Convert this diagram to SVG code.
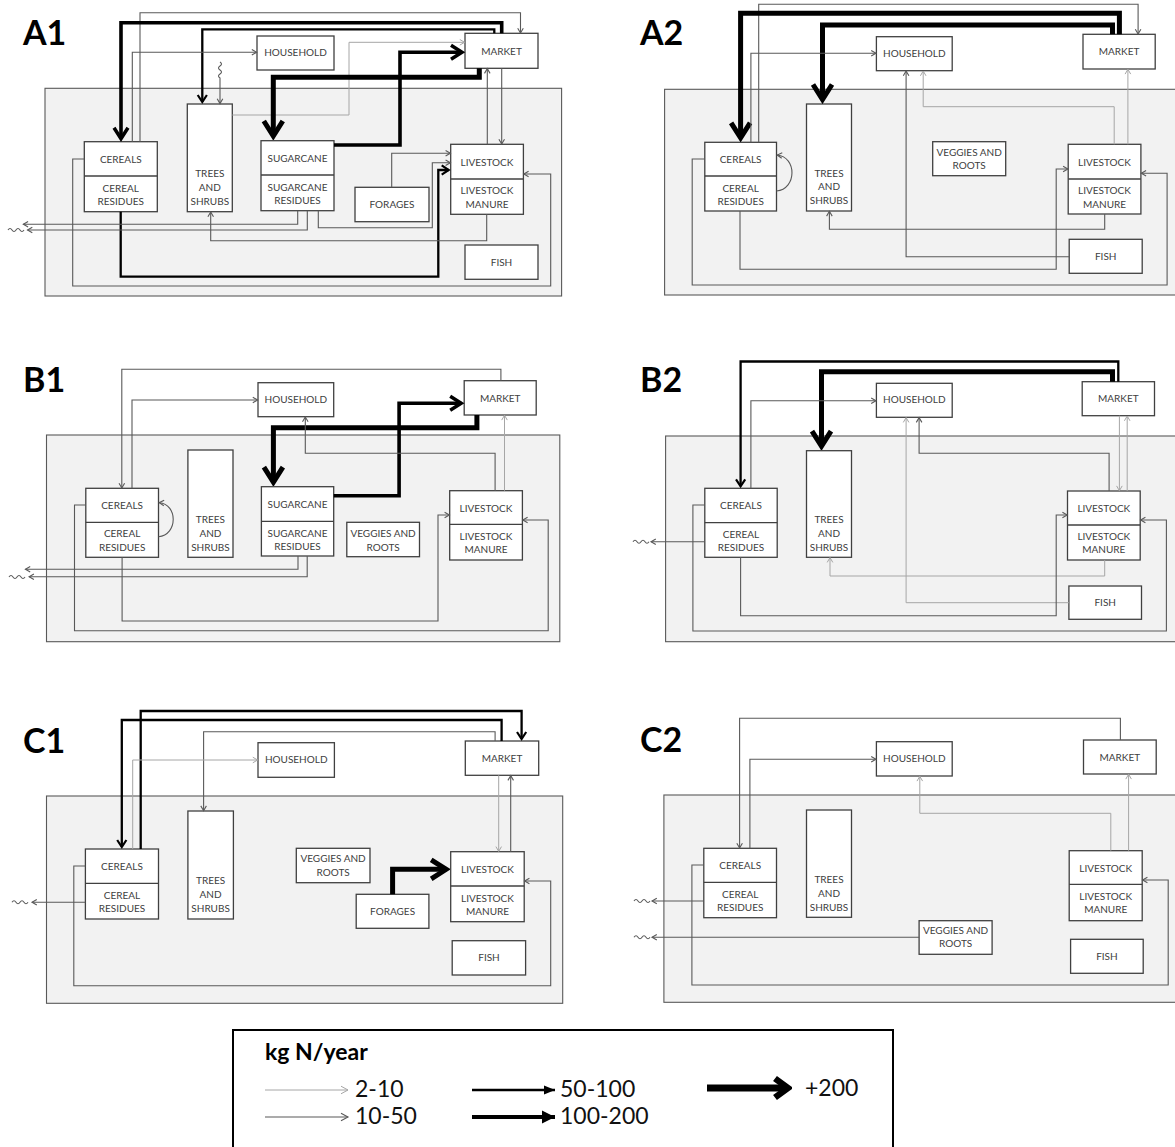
<svg xmlns="http://www.w3.org/2000/svg" width="1175" height="1147" viewBox="0 0 1175 1147">
<defs>
<style>
.bg{fill:#ffffff}
.farm{fill:#f2f2f2;stroke:#595959;stroke-width:1.1}
.box{fill:#ffffff;stroke:#404040;stroke-width:1.3}
.sep{stroke:#404040;stroke-width:1.3}
.lbl{font-family:Lato,"Liberation Sans",Arial,sans-serif;font-size:10px;fill:#404040;text-anchor:middle}
.pl{font-family:Lato,"Liberation Sans",Arial,sans-serif;font-size:34px;font-weight:bold;fill:#000}
.lg{font-family:Lato,"Liberation Sans",Arial,sans-serif;font-size:23px;fill:#111}
.lgt{font-family:Lato,"Liberation Sans",Arial,sans-serif;font-size:23px;font-weight:bold;fill:#000}
.f2{fill:none;stroke:#a6a6a6;stroke-width:1;marker-end:url(#m2)}
.f10{fill:none;stroke:#595959;stroke-width:1.1;marker-end:url(#m10)}
.f50{fill:none;stroke:#000;stroke-width:2.3;marker-end:url(#m50)}
.f100{fill:none;stroke:#000;stroke-width:3.6;marker-end:url(#m100)}
.f200{fill:none;stroke:#000;stroke-width:5;marker-end:url(#m200)}
.sq{fill:none;stroke:#595959;stroke-width:1.1}
</style>
<marker id="m2" markerUnits="userSpaceOnUse" orient="auto" viewBox="-24 -14 28 28" markerWidth="28" markerHeight="28" refX="0" refY="0"><path d="M-4.8,-2.8 L0,0 L-4.8,2.8" fill="none" stroke="#a6a6a6" stroke-width="1"/></marker>
<marker id="m10" markerUnits="userSpaceOnUse" orient="auto" viewBox="-24 -14 28 28" markerWidth="28" markerHeight="28" refX="0" refY="0"><path d="M-4.8,-2.8 L0,0 L-4.8,2.8" fill="none" stroke="#595959" stroke-width="1.1"/></marker>
<marker id="m50" markerUnits="userSpaceOnUse" orient="auto" viewBox="-24 -14 28 28" markerWidth="28" markerHeight="28" refX="0" refY="0"><path d="M-7,-4.6 L0,0 L-7,4.6" fill="none" stroke="#000" stroke-width="2.2"/></marker>
<marker id="m100" markerUnits="userSpaceOnUse" orient="auto" viewBox="-24 -14 28 28" markerWidth="28" markerHeight="28" refX="0" refY="0"><path d="M-11,-7 L0,0 L-11,7" fill="none" stroke="#000" stroke-width="3.5"/></marker>
<marker id="m200" markerUnits="userSpaceOnUse" orient="auto" viewBox="-24 -14 28 28" markerWidth="28" markerHeight="28" refX="0" refY="0"><path d="M-15,-9.5 L0,0 L-15,9.5" fill="none" stroke="#000" stroke-width="5"/></marker>
<marker id="lm2" markerUnits="userSpaceOnUse" orient="auto" viewBox="-24 -14 28 28" markerWidth="28" markerHeight="28" refX="0" refY="0"><path d="M-7,-3.8 L0,0 L-7,3.8" fill="none" stroke="#a6a6a6" stroke-width="1"/></marker>
<marker id="lm10" markerUnits="userSpaceOnUse" orient="auto" viewBox="-24 -14 28 28" markerWidth="28" markerHeight="28" refX="0" refY="0"><path d="M-7,-3.8 L0,0 L-7,3.8" fill="none" stroke="#595959" stroke-width="1.1"/></marker>
<marker id="lm50" markerUnits="userSpaceOnUse" orient="auto" viewBox="-24 -14 28 28" markerWidth="28" markerHeight="28" refX="0" refY="0"><path d="M-11,-4.5 L0,0 L-11,4.5 Z" fill="#000"/></marker>
<marker id="lm100" markerUnits="userSpaceOnUse" orient="auto" viewBox="-24 -14 28 28" markerWidth="28" markerHeight="28" refX="0" refY="0"><path d="M-13,-6.5 L0,0 L-13,6.5 Z" fill="#000"/></marker>
<marker id="lm200" markerUnits="userSpaceOnUse" orient="auto" viewBox="-24 -16 28 32" markerWidth="28" markerHeight="32" refX="0" refY="0"><path d="M-13,-9.5 L0,0 L-13,9.5" fill="none" stroke="#000" stroke-width="6.5"/></marker>
</defs>
<rect class="bg" x="0" y="0" width="1175" height="1147"/>

<!-- ================= A1 ================= -->
<g id="A1">
<rect id="A1-farm" class="farm" x="45" y="88.3" width="516.6" height="207.7"/>
<text class="pl" x="23" y="45">A1</text>
<g id="A1-household"><rect class="box" x="257" y="36" width="77" height="34"/><text class="lbl" x="295.5" y="56.3">HOUSEHOLD</text></g>
<g id="A1-market"><rect class="box" x="465" y="33.3" width="73" height="35"/><text class="lbl" x="501.5" y="54.5">MARKET</text></g>
<g id="A1-cereals"><rect class="box" x="84.3" y="141.7" width="73" height="70"/><line class="sep" x1="84.3" y1="176" x2="157.3" y2="176"/><text class="lbl" x="120.8" y="163">CEREALS</text><text class="lbl" x="120.8" y="191.5">CEREAL</text><text class="lbl" x="120.8" y="205">RESIDUES</text></g>
<g id="A1-trees"><rect class="box" x="187.3" y="104" width="45" height="107.7"/><text class="lbl" x="209.8" y="177.3">TREES</text><text class="lbl" x="209.8" y="191">AND</text><text class="lbl" x="209.8" y="204.6">SHRUBS</text></g>
<g id="A1-sugarcane"><rect class="box" x="261" y="140.7" width="73" height="70"/><line class="sep" x1="261" y1="175" x2="334" y2="175"/><text class="lbl" x="297.5" y="162">SUGARCANE</text><text class="lbl" x="297.5" y="190.5">SUGARCANE</text><text class="lbl" x="297.5" y="204">RESIDUES</text></g>
<g id="A1-forages"><rect class="box" x="355" y="187.3" width="74" height="34.4"/><text class="lbl" x="392" y="207.8">FORAGES</text></g>
<g id="A1-livestock"><rect class="box" x="450.7" y="144.3" width="72.7" height="70"/><line class="sep" x1="450.7" y1="179" x2="523.4" y2="179"/><text class="lbl" x="487" y="165.5">LIVESTOCK</text><text class="lbl" x="487" y="194.2">LIVESTOCK</text><text class="lbl" x="487" y="207.6">MANURE</text></g>
<g id="A1-fish"><rect class="box" x="465" y="245" width="73" height="34.3"/><text class="lbl" x="501.5" y="265.5">FISH</text></g>
<g id="A1-connectors">
<path class="f10" d="M140,141.7 V12.7 H520.5 V33"/>
<path class="f100" d="M501.7,33.3 V22.7 H121 V138.7"/>
<path class="f50" d="M494.3,33.3 V29.3 H202.3 V102"/>
<path class="f10" d="M132.3,141.7 V52.3 H256.6"/>
<path class="f10" d="M220,62 q3,2 0,4 t0,4 t0,4 t0,4 V103.6"/>
<path class="f2" d="M232.3,115 H349 V42.3 H464.6"/>
<path class="f100" d="M334,145 H400 V52.3 H462"/>
<path class="f200" d="M479.3,68.3 V77.3 H273.3 V136"/>
<path class="f10" d="M501.7,68.3 V144"/>
<path class="f10" d="M487.3,144.3 V68.6"/>
<path class="f10" d="M391.7,187.3 V153.3 H450.4"/>
<path class="f10" d="M318.3,210.7 V227.7 H432.3 V162.7 H450.4"/>
<path class="f50" d="M120.7,211.7 V276.7 H438.3 V170 H448.7"/>
<path class="f10" d="M297.7,210.7 V224.3 H23.3"/>
<path class="f10" d="M307.3,210.7 V230 H27.5"/>
<path class="sq" d="M8,230 q2,-3 4,0 t4,0 t4,0 t4,0"/>
<path class="f10" d="M486.7,214.3 V240.7 H210.7 V212"/>
<path class="f10" d="M84.3,159 H72.7 V286 H550.7 V174 H523.8"/>
</g>
</g>

<!-- ================= A2 ================= -->
<g id="A2">
<rect id="A2-farm" class="farm" x="664.6" y="89.3" width="520" height="205.7"/>
<text class="pl" x="640" y="45">A2</text>
<g id="A2-household"><rect class="box" x="876.4" y="36.7" width="75.8" height="34"/><text class="lbl" x="914.3" y="57">HOUSEHOLD</text></g>
<g id="A2-market"><rect class="box" x="1083" y="34.3" width="72.2" height="34.7"/><text class="lbl" x="1119.1" y="55.3">MARKET</text></g>
<g id="A2-cereals"><rect class="box" x="704.8" y="142.3" width="71.7" height="68.7"/><line class="sep" x1="704.8" y1="176" x2="776.5" y2="176"/><text class="lbl" x="740.6" y="163">CEREALS</text><text class="lbl" x="740.6" y="191.5">CEREAL</text><text class="lbl" x="740.6" y="205">RESIDUES</text></g>
<g id="A2-trees"><rect class="box" x="806.5" y="104" width="45" height="107"/><text class="lbl" x="829" y="176.6">TREES</text><text class="lbl" x="829" y="190.3">AND</text><text class="lbl" x="829" y="203.9">SHRUBS</text></g>
<g id="A2-veggies"><rect class="box" x="932.7" y="141.7" width="73" height="34"/><text class="lbl" x="969.2" y="155.5">VEGGIES AND</text><text class="lbl" x="969.2" y="169">ROOTS</text></g>
<g id="A2-livestock"><rect class="box" x="1068.2" y="144.3" width="72.7" height="69.7"/><line class="sep" x1="1068.2" y1="179" x2="1140.9" y2="179"/><text class="lbl" x="1104.5" y="165.5">LIVESTOCK</text><text class="lbl" x="1104.5" y="194">LIVESTOCK</text><text class="lbl" x="1104.5" y="207.5">MANURE</text></g>
<g id="A2-fish"><rect class="box" x="1069.2" y="239.3" width="73" height="34"/><text class="lbl" x="1105.7" y="259.8">FISH</text></g>
<g id="A2-connectors">
<path class="f10" d="M758.7,142.3 V4.3 H1138.1 V34"/>
<path class="f200" d="M1119.4,34.3 V13.3 H740.6 V137.8"/>
<path class="f200" d="M1112.5,34.3 V25 H822.5 V99.5"/>
<path class="f10" d="M750.9,142.3 V53.3 H876"/>
<path class="f2" d="M1114.2,144.3 V106.7 H923.2 V71"/>
<path class="f2" d="M1127.9,144.3 V69.3"/>
<path class="f10" d="M1069.2,256.7 H906.1 V71"/>
<path class="f10" d="M1104.7,214 V229.3 H829.4 V211.3"/>
<path class="f10" d="M740,211 V269.3 H1056.2 V169 H1067.9"/>
<path class="f10" d="M704.8,159 H692.2 V285 H1167.1 V173.3 H1141.3"/>
<path class="f10" d="M776.5,191 C797,189 797,157 777.2,155"/>
</g>
</g>

<!-- ================= B1 ================= -->
<g id="B1">
<rect id="B1-farm" class="farm" x="46.5" y="435" width="513.3" height="206.7"/>
<text class="pl" x="23" y="392">B1</text>
<g id="B1-household"><rect class="box" x="258" y="382.7" width="75.7" height="34"/><text class="lbl" x="295.8" y="403">HOUSEHOLD</text></g>
<g id="B1-market"><rect class="box" x="464.2" y="380.7" width="72" height="34.3"/><text class="lbl" x="500.2" y="401.6">MARKET</text></g>
<g id="B1-cereals"><rect class="box" x="85.8" y="488.3" width="72.7" height="69"/><line class="sep" x1="85.8" y1="522.3" x2="158.5" y2="522.3"/><text class="lbl" x="122.1" y="508.6">CEREALS</text><text class="lbl" x="122.1" y="537.3">CEREAL</text><text class="lbl" x="122.1" y="551">RESIDUES</text></g>
<g id="B1-trees"><rect class="box" x="187.9" y="450" width="45.1" height="107.3"/><text class="lbl" x="210.4" y="523.3">TREES</text><text class="lbl" x="210.4" y="536.8">AND</text><text class="lbl" x="210.4" y="550.6">SHRUBS</text></g>
<g id="B1-sugarcane"><rect class="box" x="261.4" y="486.7" width="72.3" height="69.3"/><line class="sep" x1="261.4" y1="521.3" x2="333.7" y2="521.3"/><text class="lbl" x="297.5" y="508.3">SUGARCANE</text><text class="lbl" x="297.5" y="536.6">SUGARCANE</text><text class="lbl" x="297.5" y="550">RESIDUES</text></g>
<g id="B1-veggies"><rect class="box" x="346.8" y="522.3" width="72.7" height="34.4"/><text class="lbl" x="383.1" y="537.3">VEGGIES AND</text><text class="lbl" x="383.1" y="551">ROOTS</text></g>
<g id="B1-livestock"><rect class="box" x="449.7" y="490.7" width="72.7" height="69.3"/><line class="sep" x1="449.7" y1="524.3" x2="522.4" y2="524.3"/><text class="lbl" x="486" y="511.6">LIVESTOCK</text><text class="lbl" x="486" y="540">LIVESTOCK</text><text class="lbl" x="486" y="553.3">MANURE</text></g>
<g id="B1-connectors">
<path class="f10" d="M500.9,380.7 V369.3 H121.8 V488"/>
<path class="f10" d="M132,488.3 V400 H257.6"/>
<path class="f200" d="M476.9,415 V427.7 H273.4 V482.2"/>
<path class="f100" d="M333.7,495.7 H399.1 V403.3 H461.2"/>
<path class="f10" d="M495.1,490.7 V453.3 H305.3 V417"/>
<path class="f2" d="M504.5,490.7 V415.3"/>
<path class="f10" d="M158.5,536.7 C178,535 178,504 159.2,502.7"/>
<path class="f10" d="M298,556 V569.3 H25.4"/>
<path class="f10" d="M307.2,556 V576.7 H29.1"/>
<path class="sq" d="M9,577 q2,-3 4,0 t4,0 t4,0 t4,0"/>
<path class="f10" d="M122.1,557.3 V621 H438 V515 H449.4"/>
<path class="f10" d="M85.8,505 H74.5 V630.7 H548.2 V520 H522.8"/>
</g>
</g>

<!-- ================= B2 ================= -->
<g id="B2">
<rect id="B2-farm" class="farm" x="665.6" y="436" width="520" height="205.7"/>
<text class="pl" x="640" y="392">B2</text>
<g id="B2-household"><rect class="box" x="876.4" y="383.3" width="75.8" height="34"/><text class="lbl" x="914.3" y="403.3">HOUSEHOLD</text></g>
<g id="B2-market"><rect class="box" x="1082.2" y="381.7" width="72.3" height="34"/><text class="lbl" x="1118.3" y="402.3">MARKET</text></g>
<g id="B2-cereals"><rect class="box" x="704.8" y="488.3" width="72.4" height="69"/><line class="sep" x1="704.8" y1="522.7" x2="777.2" y2="522.7"/><text class="lbl" x="741" y="508.6">CEREALS</text><text class="lbl" x="741" y="537.6">CEREAL</text><text class="lbl" x="741" y="551">RESIDUES</text></g>
<g id="B2-trees"><rect class="box" x="806.5" y="450.7" width="45" height="106.6"/><text class="lbl" x="829" y="523.3">TREES</text><text class="lbl" x="829" y="536.8">AND</text><text class="lbl" x="829" y="550.6">SHRUBS</text></g>
<g id="B2-livestock"><rect class="box" x="1067.5" y="491" width="72.7" height="69"/><line class="sep" x1="1067.5" y1="525" x2="1140.2" y2="525"/><text class="lbl" x="1103.8" y="512.3">LIVESTOCK</text><text class="lbl" x="1103.8" y="540">LIVESTOCK</text><text class="lbl" x="1103.8" y="553.3">MANURE</text></g>
<g id="B2-fish"><rect class="box" x="1068.9" y="586" width="72.6" height="33.3"/><text class="lbl" x="1105.2" y="606">FISH</text></g>
<g id="B2-connectors">
<path class="f50" d="M1118.3,381.7 V361.5 H740.6 V486.3"/>
<path class="f200" d="M1112.5,381.7 V371.7 H821.5 V446.2"/>
<path class="f10" d="M750.9,488.3 V400.7 H876"/>
<path class="f10" d="M1109.1,491 V453.3 H919.1 V417.6"/>
<path class="f2" d="M1068.9,602.7 H906.1 V417.6"/>
<path class="f2" d="M1119.4,415.7 V490.7"/>
<path class="f2" d="M1127.2,491 V416"/>
<path class="f2" d="M1104.7,560 V576 H830 V557.6"/>
<path class="f10" d="M740.6,557.3 V615.7 H1056.2 V515 H1067.2"/>
<path class="f10" d="M704.8,505 H692.9 V631 H1166.4 V520 H1140.6"/>
<path class="f10" d="M704.8,541.7 H651"/>
<path class="sq" d="M633,541.7 q2,-3 4,0 t4,0 t4,0 t4,0"/>
</g>
</g>

<!-- ================= C1 ================= -->
<g id="C1">
<rect id="C1-farm" class="farm" x="46.5" y="796" width="516.2" height="207.3"/>
<text class="pl" x="23" y="753">C1</text>
<g id="C1-household"><rect class="box" x="258" y="742.7" width="76.4" height="34.6"/><text class="lbl" x="296.2" y="763">HOUSEHOLD</text></g>
<g id="C1-market"><rect class="box" x="465.3" y="741" width="73.4" height="34.3"/><text class="lbl" x="502" y="762.3">MARKET</text></g>
<g id="C1-cereals"><rect class="box" x="85.4" y="849" width="73.1" height="70"/><line class="sep" x1="85.4" y1="883.3" x2="158.5" y2="883.3"/><text class="lbl" x="122" y="870">CEREALS</text><text class="lbl" x="122" y="899">CEREAL</text><text class="lbl" x="122" y="912.3">RESIDUES</text></g>
<g id="C1-trees"><rect class="box" x="187.9" y="811" width="45.5" height="108"/><text class="lbl" x="210.6" y="884.3">TREES</text><text class="lbl" x="210.6" y="898.2">AND</text><text class="lbl" x="210.6" y="911.6">SHRUBS</text></g>
<g id="C1-veggies"><rect class="box" x="296.3" y="848.3" width="73.7" height="34.4"/><text class="lbl" x="333.1" y="862.3">VEGGIES AND</text><text class="lbl" x="333.1" y="875.8">ROOTS</text></g>
<g id="C1-forages"><rect class="box" x="356.2" y="894.3" width="72.7" height="34"/><text class="lbl" x="392.6" y="915">FORAGES</text></g>
<g id="C1-livestock"><rect class="box" x="450.7" y="851.7" width="73.5" height="70"/><line class="sep" x1="450.7" y1="886" x2="524.2" y2="886"/><text class="lbl" x="487.5" y="873.3">LIVESTOCK</text><text class="lbl" x="487.5" y="901.6">LIVESTOCK</text><text class="lbl" x="487.5" y="915">MANURE</text></g>
<g id="C1-fish"><rect class="box" x="452.2" y="940.7" width="73.4" height="34.3"/><text class="lbl" x="489" y="961">FISH</text></g>
<g id="C1-connectors">
<path class="f50" d="M140.7,849 V711 H521.6 V739"/>
<path class="f50" d="M501.6,741 V720 H121.8 V847"/>
<path class="f10" d="M495.1,741 V731.7 H203.6 V810.7"/>
<path class="f2" d="M132.7,849 V760 H257.6"/>
<path class="f2" d="M498.7,775.3 V851.4"/>
<path class="f10" d="M510.7,851.7 V775.6"/>
<path class="f200" d="M392.6,894.3 V869.3 H446.2"/>
<path class="f10" d="M85.4,902.3 H32"/>
<path class="sq" d="M12,902.3 q2,-3 4,0 t4,0 t4,0 t4,0"/>
<path class="f10" d="M85.4,866 H73.8 V985.7 H550.7 V881 H524.6"/>
</g>
</g>

<!-- ================= C2 ================= -->
<g id="C2">
<rect id="C2-farm" class="farm" x="663.9" y="795" width="520" height="207.3"/>
<text class="pl" x="640" y="752">C2</text>
<g id="C2-household"><rect class="box" x="876.4" y="741.7" width="75.8" height="34.3"/><text class="lbl" x="914.3" y="762">HOUSEHOLD</text></g>
<g id="C2-market"><rect class="box" x="1083.5" y="740" width="72.7" height="34"/><text class="lbl" x="1119.8" y="761">MARKET</text></g>
<g id="C2-cereals"><rect class="box" x="703.8" y="848.3" width="72.7" height="69.4"/><line class="sep" x1="703.8" y1="882.3" x2="776.5" y2="882.3"/><text class="lbl" x="740.2" y="869">CEREALS</text><text class="lbl" x="740.2" y="897.6">CEREAL</text><text class="lbl" x="740.2" y="911">RESIDUES</text></g>
<g id="C2-trees"><rect class="box" x="806.5" y="810" width="45" height="107.3"/><text class="lbl" x="829" y="883.3">TREES</text><text class="lbl" x="829" y="897.2">AND</text><text class="lbl" x="829" y="910.6">SHRUBS</text></g>
<g id="C2-veggies"><rect class="box" x="919.1" y="920.7" width="73" height="33.6"/><text class="lbl" x="955.6" y="933.5">VEGGIES AND</text><text class="lbl" x="955.6" y="947.3">ROOTS</text></g>
<g id="C2-livestock"><rect class="box" x="1069.2" y="850.7" width="73" height="70"/><line class="sep" x1="1069.2" y1="884.3" x2="1142.2" y2="884.3"/><text class="lbl" x="1105.7" y="871.6">LIVESTOCK</text><text class="lbl" x="1105.7" y="900">LIVESTOCK</text><text class="lbl" x="1105.7" y="913.3">MANURE</text></g>
<g id="C2-fish"><rect class="box" x="1070.6" y="939.3" width="72.6" height="34"/><text class="lbl" x="1106.9" y="960">FISH</text></g>
<g id="C2-connectors">
<path class="f10" d="M1120.4,740 V718.3 H739.6 V848"/>
<path class="f10" d="M749.9,848.3 V759.3 H876"/>
<path class="f2" d="M1110.8,850.7 V813.3 H919.8 V776.3"/>
<path class="f2" d="M1128.6,850.7 V774.3"/>
<path class="f10" d="M703.8,901 H652"/>
<path class="sq" d="M634,901 q2,-3 4,0 t4,0 t4,0 t4,0"/>
<path class="f10" d="M919.1,937.3 H652"/>
<path class="sq" d="M634,937.3 q2,-3 4,0 t4,0 t4,0 t4,0"/>
<path class="f10" d="M703.8,865 H691.9 V985 H1168.2 V880 H1142.6"/>
</g>
</g>

<!-- ================= Legend ================= -->
<g id="legend">
<rect x="233" y="1030" width="660" height="140" fill="#fff" stroke="#000" stroke-width="2"/>
<text class="lgt" x="265" y="1060">kg N/year</text>
<path d="M265,1090 H348" fill="none" stroke="#a6a6a6" stroke-width="1" marker-end="url(#lm2)"/>
<text class="lg" x="355" y="1097">2-10</text>
<path d="M265,1117 H348" fill="none" stroke="#595959" stroke-width="1.1" marker-end="url(#lm10)"/>
<text class="lg" x="355" y="1124">10-50</text>
<path d="M472,1090 H555" fill="none" stroke="#000" stroke-width="2.6" marker-end="url(#lm50)"/>
<text class="lg" x="560" y="1097">50-100</text>
<path d="M472,1117 H555" fill="none" stroke="#000" stroke-width="4.2" marker-end="url(#lm100)"/>
<text class="lg" x="560" y="1124">100-200</text>
<path d="M707,1088 H788" fill="none" stroke="#000" stroke-width="7" marker-end="url(#lm200)"/>
<text class="lg" x="805" y="1096">+200</text>
</g>
</svg>
